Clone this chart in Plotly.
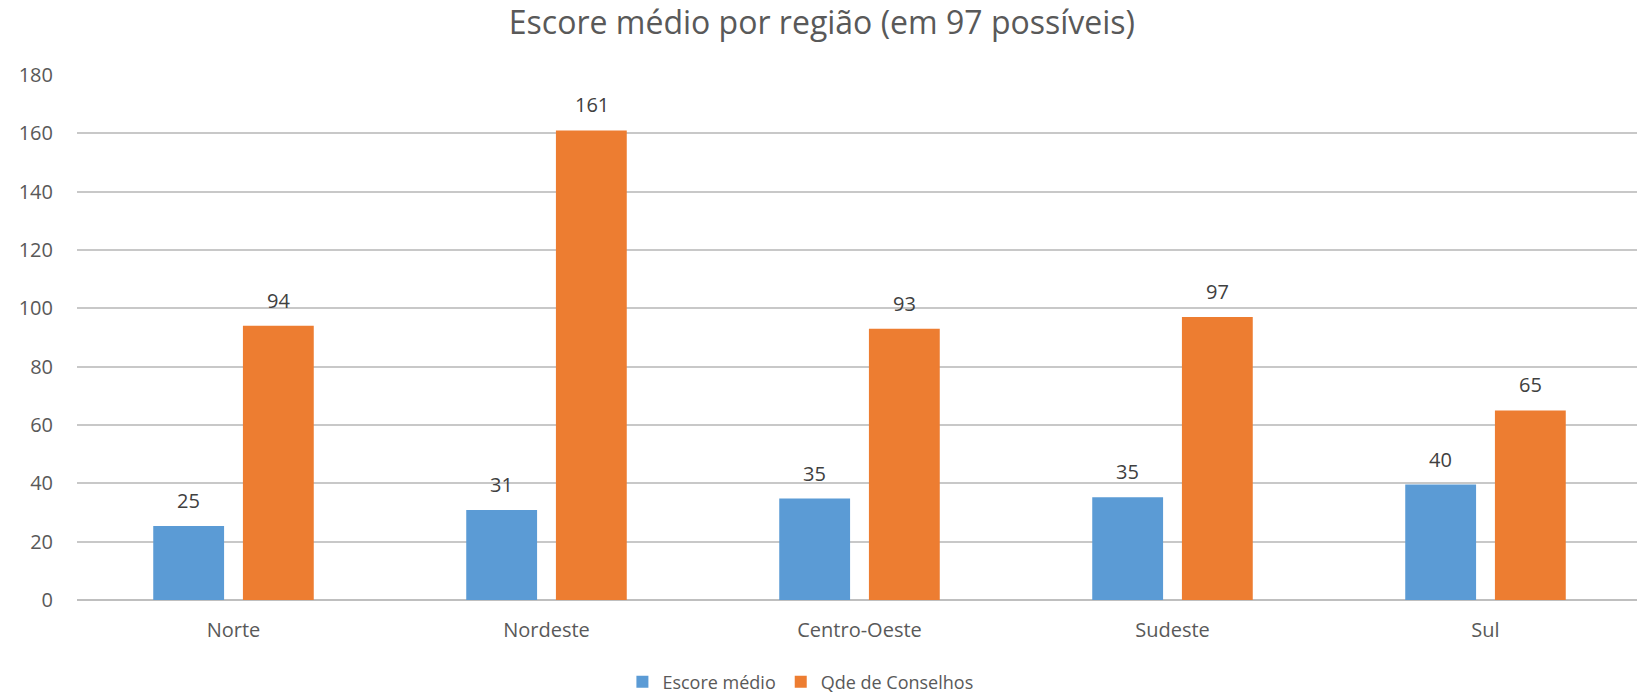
import plotly.graph_objects as go

regioes = ["Norte", "Nordeste", "Centro-Oeste", "Sudeste", "Sul"]
escore_medio = [25.4, 30.9, 34.8, 35.2, 39.6]
qde_conselhos = [94, 161, 93, 97, 65]
y_ticks = [0, 20, 40, 60, 80, 100, 120, 140, 160, 180]

FONT = "Open Sans"
BLUE = "#5B9BD5"
ORANGE = "#ED7D31"

fig = go.Figure()
fig.add_trace(go.Bar(x=regioes, y=escore_medio, name="Escore médio",
                     marker=dict(color=BLUE, line=dict(width=0))))
fig.add_trace(go.Bar(x=regioes, y=qde_conselhos, name="Qde de Conselhos",
                     marker=dict(color=ORANGE, line=dict(width=0))))

annotations = []
for series, shift in ((escore_medio, -45), (qde_conselhos, 45)):
    for cat, v in zip(regioes, series):
        annotations.append(dict(
            x=cat, y=v, xref="x", yref="y", text=f"{v:.0f}", showarrow=False,
            xshift=shift, yshift=10, yanchor="bottom",
            font=dict(size=20, color="#404040", family=FONT)))

fig.update_layout(
    width=1645, height=695,
    paper_bgcolor="white", plot_bgcolor="white",
    font=dict(family=FONT, color="#595959", size=20),
    title=dict(text="Escore médio por região (em 97 possíveis)", xref="container",
               x=0.4948, xanchor="center", yref="container", y=1.0, yanchor="top",
               pad=dict(t=4), font=dict(size=32, color="#595959", family=FONT)),
    margin=dict(l=63, r=11, t=67, b=103),
    barmode="group", bargap=0.427, bargroupgap=0.21,
    showlegend=True,
    legend=dict(orientation="h", xref="container", yref="container",
                x=0.3735, xanchor="left", y=0.0302, yanchor="middle",
                font=dict(size=18, color="#595959"), itemwidth=30,
                traceorder="normal"),
    xaxis=dict(showgrid=False, showline=False, ticks="", tickfont=dict(size=20),
               ticklabelstandoff=16),
    yaxis=dict(range=[0, 180], tickvals=y_ticks, showgrid=True, gridcolor="#c8c8c8",
               gridwidth=2, zeroline=True, zerolinecolor="#bfbfbf", zerolinewidth=2,
               showline=False, ticks="", tickfont=dict(size=20), ticklabelstandoff=23),
    annotations=annotations,
)
fig.write_html("out.html")
